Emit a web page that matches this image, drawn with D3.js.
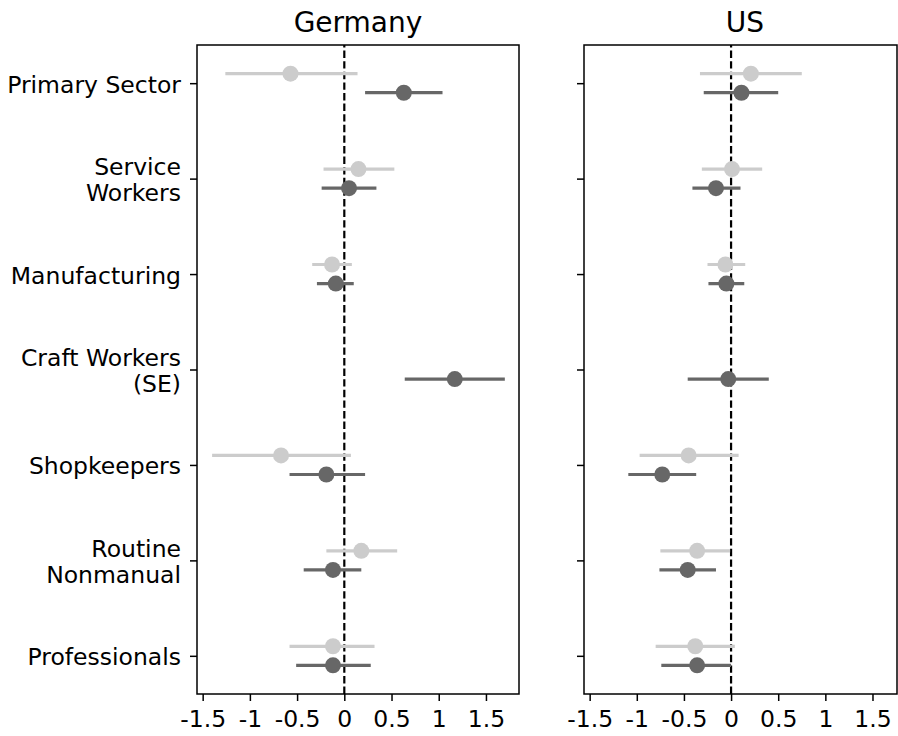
<!DOCTYPE html>
<html>
<head>
<meta charset="utf-8">
<script src="https://cdn.jsdelivr.net/npm/d3@7"></script>
<style>
  body { margin: 0; background: #fff; }
  svg text { font-family: "DejaVu Sans", sans-serif; fill: #000; }
  .axis path, .axis line { stroke: #000; stroke-width: 1.5; }
</style>
</head>
<body>
<div id="chart"></div>
<script>
// categories top to bottom
const categories = ["Primary Sector", "Service\nWorkers", "Manufacturing", "Craft Workers\n(SE)",
                    "Shopkeepers", "Routine\nNonmanual", "Professionals"];

const xTicks = [-1.5, -1, -0.5, 0, 0.5, 1, 1.5];
const xTickLabels = ["-1.5", "-1", "-0.5", "0", "0.5", "1", "1.5"];

// [estimate, lower, upper], null = not estimated
const germanyLight = [[-0.57, -1.26, 0.14], [0.15, -0.22, 0.53], [-0.13, -0.34, 0.08], null,
                      [-0.67, -1.40, 0.07], [0.18, -0.19, 0.56], [-0.12, -0.58, 0.32]];
const germanyDark  = [[0.63, 0.22, 1.04], [0.05, -0.24, 0.34], [-0.09, -0.29, 0.10], [1.17, 0.64, 1.70],
                      [-0.19, -0.58, 0.22], [-0.12, -0.43, 0.18], [-0.12, -0.51, 0.28]];
const usLight = [[0.21, -0.33, 0.75], [0.01, -0.31, 0.33], [-0.06, -0.25, 0.15], null,
                 [-0.45, -0.97, 0.08], [-0.36, -0.75, -0.01], [-0.38, -0.80, 0.04]];
const usDark  = [[0.11, -0.29, 0.50], [-0.16, -0.41, 0.10], [-0.05, -0.24, 0.14], [-0.03, -0.46, 0.40],
                 [-0.73, -1.09, -0.37], [-0.46, -0.76, -0.16], [-0.36, -0.74, 0.00]];

const width = 898, height = 736;
const plotTop = 45, plotBottom = 694;
const labelSize = 23.5, titleSize = 28;

const svg = d3.select('#chart').append('svg')
    .attr('width', width)
    .attr('height', height);

const yScale = d3.scaleLinear()
    .domain([-0.4, 6.4])
    .range([plotTop, plotBottom]);

const series = [
    {key: 'light', color: '#cccccc', offset: -0.1},
    {key: 'dark', color: '#676767', offset: 0.1}
];

function drawPanel(cfg) {
    const xScale = d3.scaleLinear()
        .domain(cfg.domain)
        .range([cfg.left, cfg.right]);

    const g = svg.append('g');

    // dashed zero line, starting from the bottom like matplotlib
    g.append('line')
        .attr('x1', xScale(0)).attr('x2', xScale(0))
        .attr('y1', plotBottom).attr('y2', plotTop)
        .attr('stroke', '#000')
        .attr('stroke-width', 2.2)
        .attr('stroke-dasharray', '7.4,3.2');

    // error bars and points
    series.forEach((s, si) => {
        const rows = cfg.data[si]
            .map((d, i) => d ? {i: i, est: d[0], lo: d[1], hi: d[2]} : null)
            .filter(d => d);

        g.selectAll('.bar-' + s.key)
            .data(rows)
            .join('line')
            .attr('class', 'bar-' + s.key)
            .attr('x1', d => xScale(d.lo))
            .attr('x2', d => xScale(d.hi))
            .attr('y1', d => yScale(d.i + s.offset))
            .attr('y2', d => yScale(d.i + s.offset))
            .attr('stroke', s.color)
            .attr('stroke-width', 3.2);

        g.selectAll('.pt-' + s.key)
            .data(rows)
            .join('circle')
            .attr('class', 'pt-' + s.key)
            .attr('cx', d => xScale(d.est))
            .attr('cy', d => yScale(d.i + s.offset))
            .attr('r', 8)
            .attr('fill', s.color);
    });

    // frame
    g.append('rect')
        .attr('x', cfg.left).attr('y', plotTop)
        .attr('width', cfg.right - cfg.left)
        .attr('height', plotBottom - plotTop)
        .attr('fill', 'none')
        .attr('stroke', '#000')
        .attr('stroke-width', 1.5);

    // x axis
    const xAxis = d3.axisBottom(xScale)
        .tickValues(xTicks)
        .tickFormat((d, i) => xTickLabels[i])
        .tickSize(7)
        .tickSizeOuter(0)
        .tickPadding(6);

    const xg = g.append('g')
        .attr('class', 'axis')
        .attr('transform', `translate(0,${plotBottom})`)
        .call(xAxis);
    xg.select('.domain').remove();
    xg.selectAll('text')
        .attr('font-size', labelSize)
        .attr('font-family', '"DejaVu Sans", sans-serif')
        .attr('dy', '0.85em');

    // y axis
    const yAxis = d3.axisLeft(yScale)
        .tickValues(d3.range(categories.length))
        .tickFormat(i => cfg.labels ? categories[i] : '')
        .tickSize(7)
        .tickSizeOuter(0)
        .tickPadding(10);

    const yg = g.append('g')
        .attr('class', 'axis')
        .attr('transform', `translate(${cfg.left},0)`)
        .call(yAxis);
    yg.select('.domain').remove();

    const lineH = 25.6;
    yg.selectAll('.tick text').each(function() {
        const t = d3.select(this);
        const lines = t.text().split('\n');
        t.text(null)
            .attr('font-size', labelSize)
            .attr('font-family', '"DejaVu Sans", sans-serif')
            .attr('dy', null)
            .attr('y', 0);
        lines.forEach((ln, k) => {
            t.append('tspan')
                .attr('x', -16)
                .attr('y', 9 - (lines.length - 1) * lineH / 2 + k * lineH)
                .text(ln);
        });
    });

    // title
    svg.append('text')
        .attr('x', cfg.left + 161)
        .attr('y', 32)
        .attr('text-anchor', 'middle')
        .attr('font-size', titleSize)
        .text(cfg.title);
}

drawPanel({title: 'Germany', left: 197, right: 519, domain: [-1.56, 1.85],
           data: [germanyLight, germanyDark], labels: true});
drawPanel({title: 'US', left: 584, right: 897, domain: [-1.56, 1.76],
           data: [usLight, usDark], labels: false});
</script>
</body>
</html>
